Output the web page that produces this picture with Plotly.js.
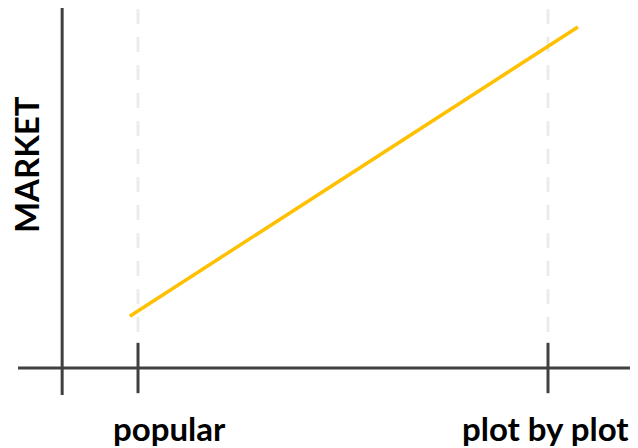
<!DOCTYPE html>
<html>
<head>
<meta charset="utf-8">
<script src="https://cdn.plot.ly/plotly-3.0.1.min.js"></script>
<style>html,body{margin:0;padding:0;background:#fff;}#chart{width:638px;height:448px;}</style>
</head>
<body>
<div id="chart"></div>
<script>
// Data
const categories = ["popular", "plot by plot"];
const categoryPositions = [0, 1];
const lineX = [-0.02, 1.073];
const lineY = [1.44, 9.47];
const yAxisTitle = "MARKET";

const axisColor = "#404040";
const gridColor = "#ececec";
const yAxisAt = -0.185;
const tickHalf = 0.7;

const shapes = [];
// gridlines (dashed) at category positions
categoryPositions.forEach(function (p) {
  shapes.push({type: "line", xref: "x", yref: "y", x0: p, x1: p, y0: 1.0, y1: 10,
    line: {color: gridColor, width: 3, dash: "15px,13px"}, layer: "below"});
});
// x axis line
shapes.push({type: "line", xref: "paper", yref: "y", x0: 0, x1: 1, y0: 0, y1: 0,
  line: {color: axisColor, width: 3}});
// y axis line
shapes.push({type: "line", xref: "x", yref: "paper", x0: yAxisAt, x1: yAxisAt, y0: 0, y1: 1,
  line: {color: axisColor, width: 3}});
// tick marks
categoryPositions.forEach(function (p) {
  shapes.push({type: "line", xref: "x", yref: "y", x0: p, x1: p, y0: -tickHalf, y1: tickHalf,
    line: {color: axisColor, width: 3}});
});

const labelFont = {family: "Lato, sans-serif", size: 33, color: "#000"};
const annotations = [
  {xref: "x", yref: "paper", x: categoryPositions[0], y: 0, yanchor: "top", xanchor: "center",
   xshift: 31, yshift: -11, text: "<b>" + categories[0] + "</b>", showarrow: false, font: labelFont},
  {xref: "x", yref: "paper", x: categoryPositions[1], y: 0, yanchor: "top", xanchor: "center",
   xshift: -3, yshift: -11, text: "<b>" + categories[1] + "</b>", showarrow: false, font: labelFont},
  {xref: "paper", yref: "paper", x: 0, y: 0.594, xanchor: "center", yanchor: "middle",
   xshift: 8, textangle: -90, text: "<b>" + yAxisTitle + "</b>", showarrow: false, font: labelFont}
];

const trace = {
  x: lineX, y: lineY, type: "scatter", mode: "lines",
  line: {color: "#FFC000", width: 3.5}, hoverinfo: "skip"
};

const layout = {
  width: 638, height: 448,
  margin: {l: 18, r: 8, t: 8, b: 53},
  paper_bgcolor: "#fff", plot_bgcolor: "#fff",
  showlegend: false,
  xaxis: {range: [-0.2927, 1.2], showgrid: false, zeroline: false, showticklabels: false, ticks: ""},
  yaxis: {range: [-0.75, 10], showgrid: false, zeroline: false, showticklabels: false, ticks: ""},
  shapes: shapes,
  annotations: annotations
};

Plotly.newPlot("chart", [trace], layout, {staticPlot: true, displayModeBar: false});
</script>
</body>
</html>
